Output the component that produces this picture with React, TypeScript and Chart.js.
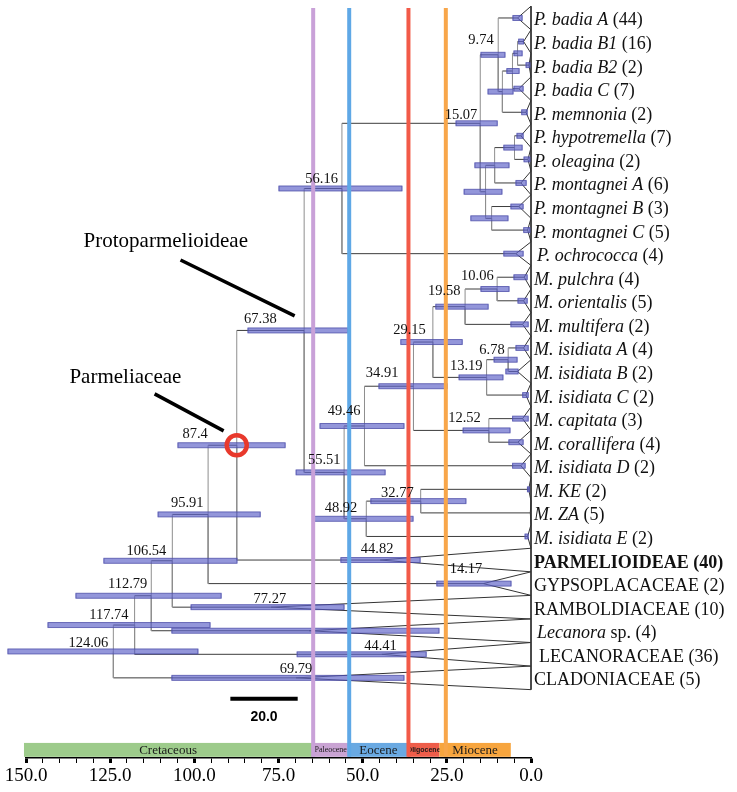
import React, { useEffect, useRef } from "react";
import { Chart, registerables } from "chart.js";
Chart.register(...registerables);

// ---------------- DATA ----------------
// Tips (collapsed clades), top to bottom
const tipNames = [
  "P. badia A", "P. badia B1", "P. badia B2", "P. badia C", "P. memnonia",
  "P. hypotremella", "P. oleagina", "P. montagnei A", "P. montagnei B", "P. montagnei C",
  "P. ochrococca", "M. pulchra", "M. orientalis", "M. multifera", "M. isidiata A",
  "M. isidiata B", "M. isidiata C", "M. capitata", "M. corallifera", "M. isidiata D",
  "M. KE", "M. ZA", "M. isidiata E", "PARMELIOIDEAE", "GYPSOPLACACEAE",
  "RAMBOLDIACEAE", "Lecanora sp.", "LECANORACEAE", "CLADONIACEAE",
];
const familyNames = ["PARMELIOIDEAE", "GYPSOPLACACEAE", "RAMBOLDIACEAE", "LECANORACEAE", "CLADONIACEAE"];
const tipCounts = [44, 16, 2, 7, 2, 7, 2, 6, 3, 5, 4, 4, 5, 2, 4, 2, 2, 3, 4, 2, 2, 5, 2, 40, 2, 10, 4, 36, 5];
// crown age (Ma) of each collapsed clade = apex of its triangle
const tipAges = [4.0, 2.2, 0.6, 3.6, 1.5, 3.0, 0.9, 3.0, 3.6, 1.0, 4.5, 2.0, 2.2, 2.5, 2.2, 4.0, 1.5, 2.5, 3.9, 3.0, 0.7, 0.2, 1.0, 44.82, 14.17, 77.27, 66.0, 44.41, 69.79];
const tipAgeLabels = ["", "", "", "", "", "", "", "", "", "", "", "", "", "", "", "", "", "", "", "", "", "", "", "44.82", "14.17", "77.27", "", "44.41", "69.79"];
const tipHpdLow = [2.5, 2.1, 0.2, 2.2, 1.0, 2.2, 0.2, 1.3, 2.2, 0.2, 2.2, 1.0, 1.0, 0.7, 0.7, 3.7, 0.7, 0.7, 2.2, 1.6, 0.3, 0.2, 0.7, 32.8, 5.8, 55.4, 27.2, 31.0, 37.6];
const tipHpdHigh = [5.5, 3.8, 1.6, 5.2, 2.9, 4.3, 2.2, 4.6, 6.1, 2.3, 8.2, 5.2, 4.0, 6.1, 4.6, 7.6, 2.6, 5.6, 6.7, 5.6, 1.2, 0.2, 1.9, 56.6, 28.1, 101.1, 106.8, 69.6, 106.8];

// Internal nodes
const nodeIds = ["n124", "n117", "n112", "n106", "n95", "n87", "n67", "n56", "n15", "n9", "nA", "nB", "nC", "nG", "nE", "nD", "nF", "n55", "n49", "n34", "n29", "n19", "n10", "n13", "n6", "n12", "n48", "n32"];
const nodeAges = [124.06, 117.74, 112.79, 106.54, 95.91, 87.4, 67.38, 56.16, 15.07, 9.74, 8.5, 5.5, 4.0, 13.5, 10.8, 4.9, 11.7, 55.51, 49.46, 34.91, 29.15, 19.58, 10.06, 13.19, 6.78, 12.52, 48.92, 32.77];
const nodeLabels = ["124.06", "117.74", "112.79", "106.54", "95.91", "87.4", "67.38", "56.16", "15.07", "9.74", "", "", "", "", "", "", "", "55.51", "49.46", "34.91", "29.15", "19.58", "10.06", "13.19", "6.78", "12.52", "48.92", "32.77"];
const nodeChildA = ["n117", "n112", "n106", "n95", "n87", "n67", "n56", "n15", "n9", "t0", "nB", "nC", "t1", "nE", "nD", "t5", "t8", "n49", "n34", "n29", "n19", "n10", "t11", "n6", "t14", "t17", "n32", "t20"];
const nodeChildB = ["t28", "t27", "t26", "t25", "t24", "t23", "n55", "t10", "nG", "nA", "t4", "t3", "t2", "nF", "t7", "t6", "t9", "n48", "t19", "n12", "n13", "t13", "t12", "t16", "t15", "t18", "t22", "t21"];
const nodeHpdLow = [98.8, 95.2, 91.9, 87.2, 80.3, 72.9, 54.2, 38.2, 9.9, 7.6, 5.2, 3.4, 2.5, 8.5, 6.4, 2.5, 6.7, 43.2, 37.6, 24.8, 20.3, 12.6, 6.4, 8.2, 4.0, 6.1, 34.9, 19.2];
const nodeHpdHigh = [155.5, 143.6, 135.3, 127.0, 110.9, 105.0, 84.2, 75.0, 22.4, 15.0, 12.9, 7.3, 5.2, 20.0, 16.8, 8.2, 18.0, 69.9, 62.8, 45.3, 38.8, 28.4, 15.0, 21.5, 11.1, 20.3, 64.6, 47.7];

// Geological time
const epochNames = ["Cretaceous", "Paleocene", "Eocene", "Oligocene", "Miocene"];
const epochStart = [150.6, 65.0, 54.0, 36.6, 27.2];
const epochEnd = [65.0, 54.0, 36.6, 27.2, 6.0];
const boundaryAges = [64.7, 54.0, 36.4, 25.3];

// ---------------- STYLE / LAYOUT ----------------
const SERIF = '"Liberation Serif", "Times New Roman", serif';
const SANS = '"Liberation Sans", Arial, sans-serif';
const epochColors = ["#9dcb8b", "#c9a3d3", "#69a9e2", "#ee5d4a", "#f7a53e"];
const epochFont = ["13px " + SERIF, "8px " + SERIF, "13px " + SERIF, "bold 7px " + SANS, "13px " + SERIF];
const boundaryColors = ["#c9a1d8", "#5fa8e6", "#f25a48", "#f8a64a"];
const ROW_TOP = -0.5;
const ROW_MAX = 31.4;
const GEO_TOP = 30.76;
const GEO_BOTTOM = 31.35;
const LINE_TOP = -0.42;

// label nudges: [dx, dy, align]
const nodeLabelNudge: Record<string, [number, number, CanvasTextAlign]> = {
  "124.06": [-5, -4.5, "right"], "117.74": [-6, -6, "right"], "112.79": [-4, -8, "right"],
  "106.54": [-6, -6, "right"], "95.91": [-4.5, -7.5, "right"], "87.4": [-29, -7, "right"],
  "67.38": [-27.5, -7.5, "right"], "56.16": [-4, -5.5, "right"], "15.07": [-3, -4.5, "right"],
  "9.74": [-4.5, -11, "right"], "55.51": [-3.5, -8.5, "right"], "49.46": [-4, -11, "right"],
  "34.91": [-15, -9, "right"], "29.15": [-7, -8, "right"], "19.58": [-4.5, -11.5, "right"],
  "10.06": [-3.5, -9, "right"], "13.19": [-4, -7, "right"], "6.78": [-3.5, -6, "right"],
  "12.52": [-8, -8.5, "right"], "48.92": [-9, -7, "right"], "32.77": [-7, -4, "right"],
  "44.82": [-3, -7, "center"], "14.17": [-1, -11, "right"], "77.27": [-1, -4, "center"],
  "44.41": [-1, -4, "center"], "69.79": [0, -4.5, "center"],
};
const tipLabelNudge: Record<string, number> = { "Lecanora sp.": 3, "LECANORACEAE": 5, "P. ochrococca": 3 };

// ---------------- TREE GEOMETRY (from data) ----------------
const nodeIndex: Record<string, number> = {};
nodeIds.forEach((id, i) => (nodeIndex[id] = i));
const refAge = (r: string): number => (r[0] === "t" ? tipAges[Number(r.slice(1))] : nodeAges[nodeIndex[r]]);
const refRow = (r: string): number => {
  if (r[0] === "t") return Number(r.slice(1));
  const i = nodeIndex[r];
  return (refRow(nodeChildA[i]) + refRow(nodeChildB[i])) / 2;
};
const nodeRows = nodeIds.map((id) => refRow(id));

export default function App() {
  const ref = useRef<HTMLCanvasElement | null>(null);
  useEffect(() => {
    document.body.style.margin = "0";
    const canvas = ref.current;
    if (!canvas) return;

    const datasets: any[] = [];
    const lineDs = (pts: { x: number; y: number }[], color: string, width = 1) => ({
      data: pts,
      borderColor: color,
      borderWidth: width,
      pointRadius: 0,
      pointHoverRadius: 0,
      fill: false,
      tension: 0,
      clip: false,
    });

    // branches
    nodeIds.forEach((id, i) => {
      const a = nodeAges[i];
      const y = nodeRows[i];
      [nodeChildA[i], nodeChildB[i]].forEach((c) => {
        const cy = refRow(c);
        const ca = refAge(c);
        datasets.push(lineDs([{ x: a, y }, { x: a, y: cy }], "#8e8e8e"));
        datasets.push(lineDs([{ x: a, y: cy }, { x: ca, y: cy }], "#3c3c3c"));
      });
    });
    // collapsed-clade triangles
    tipNames.forEach((_, i) => {
      datasets.push(lineDs([{ x: 0, y: i - 0.5 }, { x: tipAges[i], y: i }, { x: 0, y: i + 0.5 }], "#333333"));
    });
    datasets.push(lineDs([{ x: 0, y: -0.5 }, { x: 0, y: tipNames.length - 0.5 }], "#333333"));

    const decor = {
      id: "treeDecor",
      afterDatasetsDraw(chart: any) {
        const { ctx } = chart;
        const xs = chart.scales.x;
        const ys = chart.scales.y;
        const px = (v: number) => xs.getPixelForValue(v);
        const py = (v: number) => ys.getPixelForValue(v);
        ctx.save();

        // HPD bars
        const hpd = (lo: number, hi: number, row: number) => {
          if (!(hi > lo)) return;
          const x1 = px(hi);
          const x2 = px(lo);
          const yc = py(row);
          ctx.fillStyle = "rgba(96,100,200,0.68)";
          ctx.fillRect(x1, yc - 2.5, x2 - x1, 5);
          ctx.strokeStyle = "rgba(72,74,165,0.75)";
          ctx.lineWidth = 1;
          ctx.strokeRect(x1 + 0.5, yc - 2.5, Math.max(x2 - x1 - 1, 0.5), 5);
        };
        nodeIds.forEach((_, i) => hpd(nodeHpdLow[i], nodeHpdHigh[i], nodeRows[i]));
        tipNames.forEach((_, i) => hpd(tipHpdLow[i], tipHpdHigh[i], i));

        // geological time bar
        epochNames.forEach((name, i) => {
          const x1 = px(epochStart[i]);
          const x2 = px(epochEnd[i]);
          const y1 = py(GEO_TOP);
          const y2 = py(GEO_BOTTOM);
          ctx.fillStyle = epochColors[i];
          ctx.fillRect(x1, y1, x2 - x1, y2 - y1);
          ctx.fillStyle = "#1a1a1a";
          ctx.font = epochFont[i];
          ctx.textAlign = "center";
          ctx.textBaseline = "middle";
          ctx.fillText(name, (x1 + x2) / 2, (y1 + y2) / 2 + 0.5);
        });

        // epoch boundary lines
        boundaryAges.forEach((a, i) => {
          ctx.strokeStyle = boundaryColors[i];
          ctx.lineWidth = 4;
          ctx.beginPath();
          ctx.moveTo(px(a), py(LINE_TOP));
          ctx.lineTo(px(a), py(GEO_BOTTOM));
          ctx.stroke();
        });

        // node age labels
        ctx.fillStyle = "#111";
        ctx.font = "14.5px " + SERIF;
        ctx.textBaseline = "alphabetic";
        const ageLabel = (txt: string, age: number, row: number) => {
          if (!txt) return;
          const n = nodeLabelNudge[txt] || [-4, -7, "right"];
          ctx.textAlign = n[2];
          ctx.fillText(txt, px(age) + n[0], py(row) + n[1]);
        };
        nodeIds.forEach((_, i) => ageLabel(nodeLabels[i], nodeAges[i], nodeRows[i]));
        tipNames.forEach((_, i) => ageLabel(tipAgeLabels[i], tipAges[i], i));

        // tip labels
        ctx.textAlign = "left";
        tipNames.forEach((name, i) => {
          let xx = px(0) + 3 + (tipLabelNudge[name] || 0);
          const yb = py(i) + 7.5;
          const parts: [string, string][] = [];
          const isFamily = familyNames.indexOf(name) >= 0;
          if (isFamily) {
            const w = name === "PARMELIOIDEAE" ? "bold " : "";
            parts.push([name + " (" + tipCounts[i] + ")", w + "18px " + SERIF]);
          } else if (name.endsWith(" sp.")) {
            parts.push([name.replace(" sp.", ""), "italic 18px " + SERIF]);
            parts.push([" sp. (" + tipCounts[i] + ")", "18px " + SERIF]);
          } else {
            parts.push([name, "italic 18px " + SERIF]);
            parts.push([" (" + tipCounts[i] + ")", "18px " + SERIF]);
          }
          parts.forEach(([t, f]) => {
            ctx.font = f;
            ctx.fillText(t, xx, yb);
            xx += ctx.measureText(t).width;
          });
        });

        // annotations
        ctx.fillStyle = "#000";
        ctx.font = "21px " + SERIF;
        ctx.textAlign = "left";
        ctx.fillText("Protoparmelioideae", px(132.9), py(9.72));
        ctx.fillText("Parmeliaceae", px(137.1), py(15.49));
        ctx.strokeStyle = "#000";
        ctx.lineWidth = 3.5;
        ctx.beginPath();
        ctx.moveTo(px(104.1), py(10.27));
        ctx.lineTo(px(70.2), py(12.64));
        ctx.moveTo(px(111.8), py(15.95));
        ctx.lineTo(px(91.3), py(17.52));
        ctx.stroke();

        // red circle on the Parmeliaceae crown node
        const k = nodeIndex["n87"];
        ctx.strokeStyle = "#e8392c";
        ctx.lineWidth = 4.5;
        ctx.beginPath();
        ctx.arc(px(nodeAges[k]), py(nodeRows[k]), 10, 0, Math.PI * 2);
        ctx.stroke();

        // scale bar (20 Ma)
        ctx.strokeStyle = "#000";
        ctx.lineWidth = 4;
        ctx.beginPath();
        ctx.moveTo(px(89.3), py(28.89));
        ctx.lineTo(px(69.3), py(28.89));
        ctx.stroke();
        ctx.font = "bold 14px " + SANS;
        ctx.textAlign = "center";
        ctx.textBaseline = "middle";
        ctx.fillText("20.0", px(79.3), py(29.66));

        ctx.restore();
      },
    };

    const chart = new Chart(canvas, {
      type: "line",
      data: { datasets },
      options: {
        animation: false,
        responsive: false,
        devicePixelRatio: 1,
        events: [],
        layout: { padding: { left: 26, right: 206, top: 6.2, bottom: 0 } },
        plugins: { legend: { display: false }, tooltip: { enabled: false } },
        scales: {
          x: {
            type: "linear",
            min: 0,
            max: 150,
            reverse: true,
            position: "bottom",
            afterFit: (s: any) => {
              s.height = 34;
            },
            ticks: {
              stepSize: 5,
              autoSkip: false,
              maxRotation: 0,
              padding: 2,
              color: "#000",
              font: { family: SERIF, size: 19 },
              callback: (v: any) => (Number(v) % 25 === 0 ? Number(v).toFixed(1) : ""),
            },
            grid: {
              drawOnChartArea: false,
              drawTicks: true,
              tickLength: 5,
              tickColor: "#000",
              tickWidth: (c: any) => (c.tick && c.tick.value % 25 === 0 ? 3 : 1),
            },
            border: { display: true, color: "#000", width: 1.5 },
          },
          y: {
            type: "linear",
            min: ROW_TOP,
            max: ROW_MAX,
            reverse: true,
            display: false,
          },
        },
      } as any,
      plugins: [decor],
    });
    return () => chart.destroy();
  }, []);

  return <canvas ref={ref} width={737} height={792} style={{ display: "block" }} />;
}
